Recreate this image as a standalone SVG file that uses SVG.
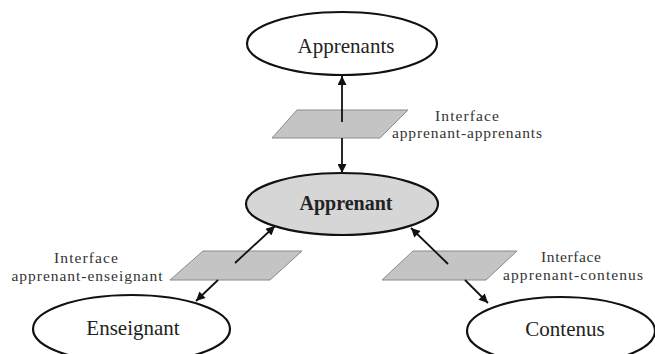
<svg xmlns="http://www.w3.org/2000/svg" width="655" height="354" viewBox="0 0 655 354">
<defs>
<style>
.node{fill:#fff;stroke:#111;stroke-width:2.2}
.center{fill:#d6d6d6;stroke:#111;stroke-width:2.2}
.iface{fill:#c4c4c4;stroke:#8a8a8a;stroke-width:1}
.lbl{font-family:"Liberation Serif","Times New Roman",serif;font-size:21px;fill:#222;text-anchor:middle}
.bold{font-weight:bold;font-size:20px}
.it{font-family:"Liberation Serif","Times New Roman",serif;font-size:15.5px;fill:#333;text-anchor:middle}
.conn{stroke:#111;stroke-width:1.8;fill:none;marker-end:url(#arr)}
</style>
<marker id="arr" viewBox="0 0 10 10" refX="10" refY="5" markerWidth="11" markerHeight="9" markerUnits="userSpaceOnUse" orient="auto">
<path d="M0,0 L10,5 L0,10 z" fill="#111"/>
</marker>
</defs>
<rect width="655" height="354" fill="#fff"/>
<g id="iface-top">
<polygon class="iface" points="297,110 408,110 380,138 272,138"/>
<text class="it" x="467" y="121" textLength="64">Interface</text>
<text class="it" x="467" y="138" textLength="150">apprenant-apprenants</text>
</g>
<g id="iface-left">
<polygon class="iface" points="203,251 302,251 270,280 170,280"/>
<text class="it" x="86" y="263" textLength="64">Interface</text>
<text class="it" x="87" y="281" textLength="151">apprenant-enseignant</text>
</g>
<g id="iface-right">
<polygon class="iface" points="413,251 517,251 486,280 382,280"/>
<text class="it" x="571" y="262" textLength="60">Interface</text>
<text class="it" x="573" y="280" textLength="140">apprenant-contenus</text>
</g>
<g id="connectors">
<line class="conn" x1="342" y1="122" x2="342" y2="76"/>
<line class="conn" x1="342" y1="138" x2="342" y2="173"/>
<line class="conn" x1="235" y1="263" x2="275" y2="226"/>
<line class="conn" x1="218" y1="280" x2="196" y2="301"/>
<line class="conn" x1="448" y1="264" x2="411" y2="228"/>
<line class="conn" x1="465" y1="280" x2="488" y2="303"/>
</g>
<g id="apprenants">
<ellipse class="node" cx="342" cy="43.5" rx="95" ry="31.5"/>
<text class="lbl" x="346" y="53">Apprenants</text>
</g>
<g id="apprenant">
<ellipse class="center" cx="342" cy="204" rx="96" ry="31"/>
<text class="lbl bold" x="346" y="210">Apprenant</text>
</g>
<g id="enseignant">
<ellipse class="node" cx="131.5" cy="329" rx="98.5" ry="34"/>
<text class="lbl" x="133" y="335">Enseignant</text>
</g>
<g id="contenus">
<ellipse class="node" cx="561" cy="331" rx="94" ry="34"/>
<text class="lbl" x="565" y="336">Contenus</text>
</g>
</svg>
